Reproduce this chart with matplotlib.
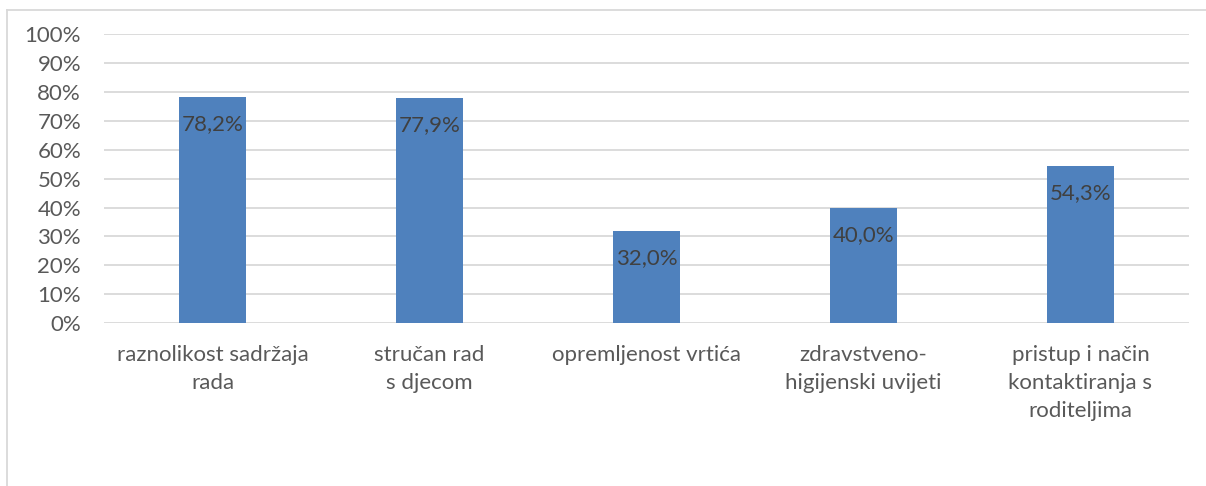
import matplotlib
matplotlib.use("Agg")
import matplotlib.pyplot as plt
from matplotlib.lines import Line2D
import numpy as np

categories = ["raznolikost sadržaja\nrada", "stručan rad\ns djecom", "opremljenost vrtića",
              "zdravstveno-\nhigijenski uvijeti", "pristup i način\nkontaktiranja s\nroditeljima"]
values = [78.2, 77.9, 32.0, 40.0, 54.3]
yticks = [0, 10, 20, 30, 40, 50, 60, 70, 80, 90, 100]

plt.rcParams['font.family'] = ['Lato', 'DejaVu Sans']

W, H = 1206, 486
fig = plt.figure(figsize=(W / 100, H / 100), dpi=100)
ax = fig.add_axes([104 / W, 1 - 323 / H, (1189 - 104) / W, (323 - 34.5) / H])

x = np.arange(len(categories))
ax.bar(x, values, width=0.313, color='#4F81BD', zorder=3)
ax.set_xlim(-0.5, len(categories) - 0.5)
ax.set_ylim(0, 100)
ax.set_yticks(yticks)
ax.set_yticklabels([f"{v}%" for v in yticks], color='#595959', fontsize=16)
ax.set_xticks(x)
ax.set_xticklabels(categories, color='#595959', fontsize=16, linespacing=1.5, va='top')
ax.tick_params(axis='both', length=0)
ax.tick_params(axis='y', pad=16.5)
ax.tick_params(axis='x', pad=16)
ax.grid(axis='y', color='#D9D9D9', linewidth=1.3, zorder=0)
for s in ax.spines.values():
    s.set_visible(False)

for xi, v in zip(x, values):
    ax.annotate(f"{v:.1f}%".replace('.', ','), (xi, v), xytext=(0, -17), textcoords='offset pixels',
                ha='center', va='top', color='#404040', fontsize=16, zorder=4)

# chart border (top and left visible)
fig.add_artist(Line2D([7 / W, 7 / W], [0, 1 - 10 / H], transform=fig.transFigure, color='#D9D9D9', linewidth=1.3))
fig.add_artist(Line2D([7 / W, 1], [1 - 10 / H, 1 - 10 / H], transform=fig.transFigure, color='#D9D9D9', linewidth=1.3))

fig.savefig('out.png', dpi=100)
